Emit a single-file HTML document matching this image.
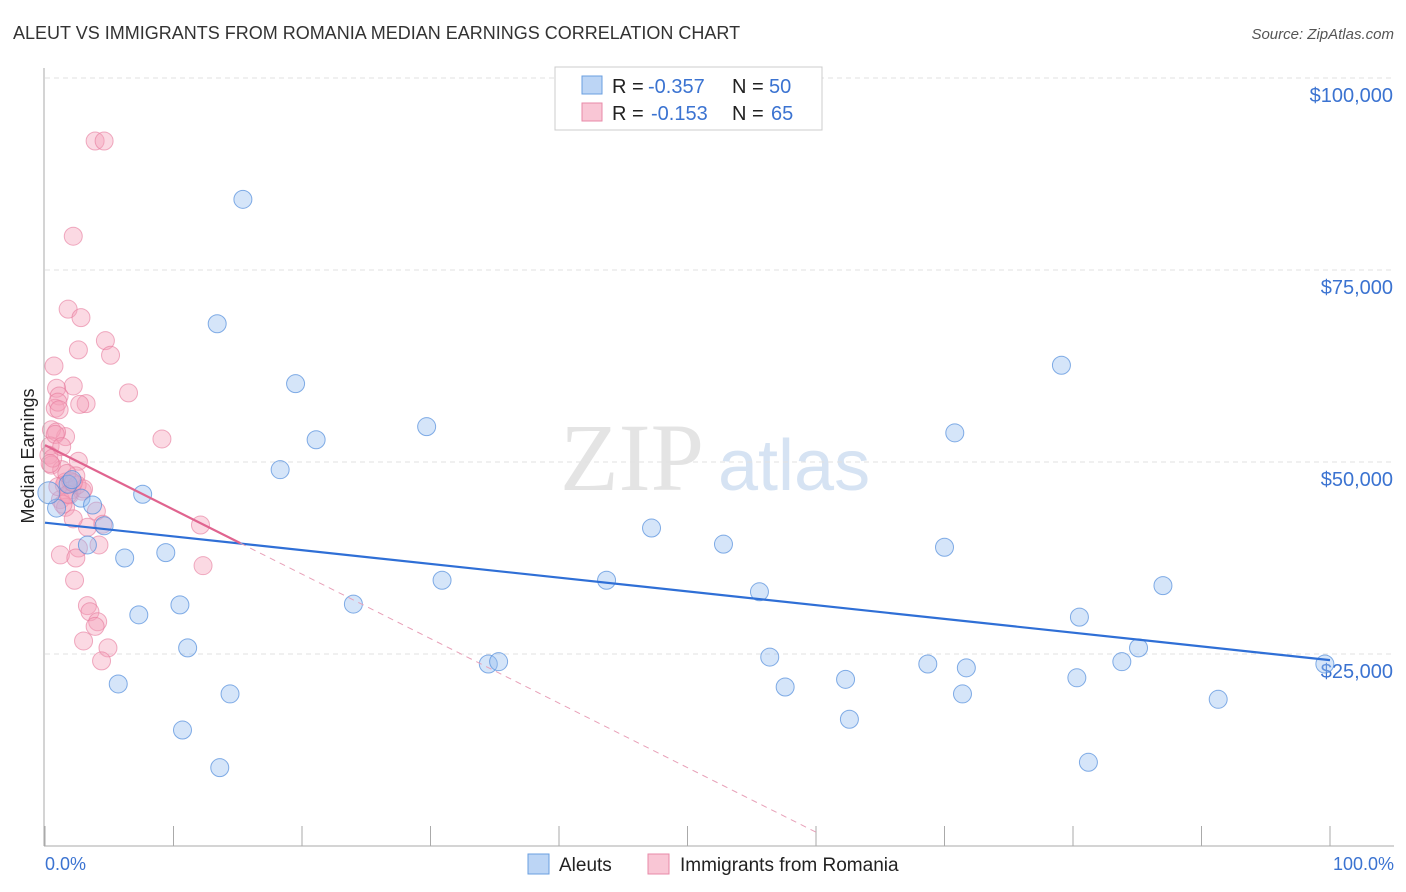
<!DOCTYPE html>
<html><head><meta charset="utf-8"><style>
body{margin:0;background:#fff;font-family:"Liberation Sans",sans-serif}
svg{display:block}
</style></head><body>
<svg id="chart" width="1406" height="892">
<text x="13" y="39" font-size="18" fill="#333">ALEUT VS IMMIGRANTS FROM ROMANIA MEDIAN EARNINGS CORRELATION CHART</text>
<text x="1394" y="39" font-size="15" fill="#555" font-style="italic" text-anchor="end">Source: ZipAtlas.com</text>
<text x="560" y="490" font-size="96" fill="#e4e4e4" font-family="Liberation Serif">ZIP</text>
<text x="718" y="490" font-size="72" fill="#d6e3f3">atlas</text>
<text transform="translate(34,456) rotate(-90)" font-size="18" fill="#222" text-anchor="middle">Median Earnings</text>
<g id="grid"></g><g id="ticks"></g><g id="pts"></g><g id="lines"></g>
<line x1="44" y1="68" x2="44" y2="846" stroke="#aaa"/>
<line x1="44" y1="846" x2="1394" y2="846" stroke="#aaa"/>
<text x="45" y="870" font-size="18" fill="#3b73d1">0.0%</text>
<text x="1394" y="870" font-size="18" fill="#3b73d1" text-anchor="end">100.0%</text>
<g font-size="20">
<rect x="555" y="67" width="267" height="63" fill="#fff" stroke="#ccc"/>
<rect x="582" y="76" width="20" height="18" fill="#bcd5f5" stroke="#6a9fe0"/>
<rect x="582" y="103" width="20" height="18" fill="#f9c6d5" stroke="#e88aa8"/>
<text x="612" y="93" fill="#222">R =</text>
<text x="648" y="93" fill="#3b73d1">-0.357</text>
<text x="732" y="93" fill="#222">N =</text>
<text x="769" y="93" fill="#3b73d1">50</text>
<text x="612" y="120" fill="#222">R =</text>
<text x="651" y="120" fill="#3b73d1">-0.153</text>
<text x="732" y="120" fill="#222">N =</text>
<text x="771" y="120" fill="#3b73d1">65</text>
</g>
<g>
<rect x="528" y="854" width="21" height="20" fill="#bcd5f5" stroke="#6a9fe0"/>
<text x="559" y="871" font-size="19" fill="#222">Aleuts</text>
<rect x="648" y="854" width="21" height="20" fill="#f9c6d5" stroke="#e88aa8"/>
<text x="680" y="871" font-size="19" fill="#222">Immigrants from Romania</text>
</g>
</svg>
<script>
const yTicks=[25000,50000,75000,100000];
const yTickLabels=["$25,000","$50,000","$75,000","$100,000"];
const blueX=[15.4,13.4,19.5,21.1,18.3,29.7,7.6,2.8,3.7,0.9,1.8,2.1,4.6,3.3,6.2,9.4,7.3,10.5,11.1,5.7,14.4,10.7,13.6,24.0,30.9,34.5,35.3,43.7,47.2,52.8,55.6,56.4,57.6,62.3,62.6,68.7,70.0,70.8,71.4,71.7,79.1,80.5,80.3,81.2,83.8,85.1,87.0,91.3,99.6,0.3];
const blueY=[84.2,68.0,60.2,52.9,49.0,54.6,45.8,45.3,44.4,44.0,47.1,47.7,41.7,39.2,37.5,38.2,30.1,31.4,25.8,21.1,19.8,15.1,10.2,31.5,34.6,23.7,24.0,34.6,41.4,39.3,33.1,24.6,20.7,21.7,16.5,23.7,38.9,53.8,19.8,23.2,62.6,29.8,21.9,10.9,24.0,25.8,33.9,19.1,23.7,46.0];
const pinkX=[3.9,4.6,2.2,1.8,2.8,4.7,5.1,2.6,0.7,2.2,6.5,0.9,1.1,3.2,0.8,1.0,9.1,1.6,0.5,0.9,0.4,0.3,2.6,0.5,1.3,2.4,1.6,2.1,1.2,1.9,1.6,4.0,12.1,3.3,2.2,4.5,4.2,2.6,1.2,2.4,12.3,2.3,3.3,3.5,4.1,3.9,3.0,4.9,4.4,1.5,2.0,1.0,0.6,2.9,1.7,0.4,1.4,2.5,3.0,1.8,0.8,2.7,1.1,1.3,2.2];
const pinkY=[91.8,91.8,79.4,69.9,68.8,65.8,63.9,64.6,62.5,59.9,59.0,59.6,58.6,57.6,57.0,57.8,53.0,53.3,54.2,53.9,52.1,50.9,50.1,49.6,49.0,48.2,47.4,46.4,45.1,45.7,44.1,43.6,41.8,41.5,42.6,41.9,39.2,38.8,37.9,37.5,36.5,34.6,31.3,30.5,29.2,28.6,26.7,25.8,24.1,47.0,47.5,46.8,50.5,46.2,48.5,49.8,44.5,47.0,46.5,45.8,53.6,57.5,56.8,52.0,47.3];
const blueLine=[42.1,24.2];
const pinkLine=[52.2,-0.84];
const NS="http://www.w3.org/2000/svg";
const xs=v=>45+v*12.85, ys=v=>846-v*192/25000;
function mk(t,a,p){const e=document.createElementNS(NS,t);for(const k in a)e.setAttribute(k,a[k]);p.appendChild(e);return e;}
const grid=document.getElementById('grid'),ticks=document.getElementById('ticks'),pts=document.getElementById('pts'),lines=document.getElementById('lines');
yTicks.forEach((t,i)=>{
 const l=mk('line',{x1:45,x2:1394,y1:ys(t),y2:ys(t),stroke:'#e2e2e2','stroke-dasharray':'5,4'},grid);
 
 
 const tx=mk('text',{x:1393,y:ys(t)+24,'font-size':20,fill:'#3b73d1','text-anchor':'end'},ticks);
 tx.textContent=yTickLabels[i];
 
 
});
for(let i=0;i<=10;i++){
 const l=mk('line',{x1:xs(i*10),x2:xs(i*10),y1:826,y2:846,stroke:'#aaa'},ticks);
 
 
}
pinkX.forEach((x,i)=>{
 const c=mk('circle',{cx:xs(x),cy:ys(pinkY[i]*1000),r:9,fill:'rgba(245,160,185,0.4)',stroke:'rgba(230,120,155,0.6)','stroke-width':1},pts);
 
 
});
blueX.forEach((x,i)=>{
 const c=mk('circle',{cx:xs(x),cy:ys(blueY[i]*1000),r:i==49?11:9,fill:'rgba(150,190,240,0.4)',stroke:'rgba(80,140,220,0.7)','stroke-width':1},pts);
 
 
});
const bl=mk('line',{x1:xs(0),y1:ys(blueLine[0]*1000),x2:xs(100),y2:ys(blueLine[1]*1000),stroke:'#2f6fd6','stroke-width':2.2},lines);


const pe=15.2, pz=60;
const pl=mk('line',{x1:xs(0),y1:ys(pinkLine[0]*1000),x2:xs(pe),y2:ys((pinkLine[0]+pinkLine[1]*pe)*1000),stroke:'#e0648f','stroke-width':2.2},lines);


const pd=mk('line',{x1:xs(pe),y1:ys((pinkLine[0]+pinkLine[1]*pe)*1000),x2:xs(pz),y2:ys((pinkLine[0]+pinkLine[1]*pz)*1000),stroke:'#e8a0b8','stroke-width':1,'stroke-dasharray':'6,5'},lines);


</script>
</body></html>
